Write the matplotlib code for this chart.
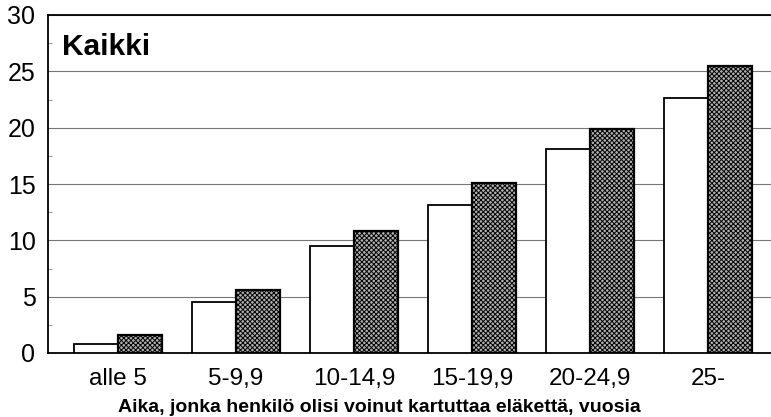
import matplotlib
matplotlib.use("Agg")
import matplotlib.pyplot as plt
import numpy as np

categories = ["alle 5", "5-9,9", "10-14,9", "15-19,9", "20-24,9", "25-"]
series_a = [0.8, 4.5, 9.5, 13.1, 18.1, 22.6]
series_b = [1.6, 5.6, 10.8, 15.1, 19.9, 25.5]
yticks = [0, 5, 10, 15, 20, 25, 30]

plt.rcParams['font.family'] = ['Liberation Sans', 'DejaVu Sans']
plt.rcParams['hatch.color'] = '#333333'
plt.rcParams['hatch.linewidth'] = 0.7

fig = plt.figure(figsize=(7.71, 4.17), dpi=100)
ax = fig.add_axes([48/771, 1-353/417, 1-48/771, (353-15)/417])

x = np.arange(len(categories))
w = 0.373
ax.bar(x - w/2, series_a, width=w, color='white', edgecolor='black', linewidth=1.3, zorder=3)
ax.bar(x + w/2, series_b, width=w, color='#b0b0b0', edgecolor='black', linewidth=1.6,
       hatch='xxxxxxx', zorder=3)

ax.set_xlim(-0.593, 5.53)
ax.set_ylim(0, 30)
ax.set_yticks(yticks)
ax.set_yticks([2.5, 7.5, 12.5, 17.5, 22.5, 27.5], minor=True)
ax.tick_params(axis='y', which='major', length=0, labelsize=18, pad=9)
ax.tick_params(axis='y', which='minor', length=3, direction='in', width=0.6, color='#888888')
ax.set_xticks(x)
ax.set_xticklabels(categories)
ax.tick_params(axis='x', length=0, labelsize=17.5, pad=11)
ax.yaxis.grid(True, which='major', color='#777777', linewidth=0.8, zorder=0)
ax.set_axisbelow(True)

ax.spines['right'].set_visible(False)
for s in ['left', 'top', 'bottom']:
    ax.spines[s].set_linewidth(1.3)

fig.text(379/771, 1-412/417, "Aika, jonka henkilö olisi voinut kartuttaa eläkettä, vuosia",
         fontsize=14, fontweight='bold', ha='center', va='baseline')
ax.text(62/771, 1-47/417, "Kaikki", transform=fig.transFigure, fontsize=21.5,
        fontweight='bold', va='center', ha='left')

fig.savefig("out.png", dpi=100)
